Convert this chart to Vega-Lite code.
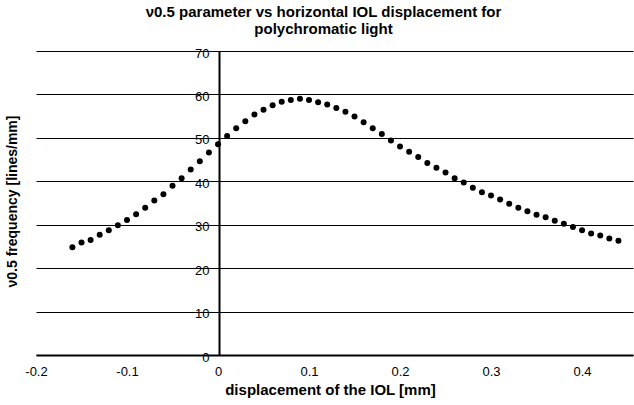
{
  "$schema": "https://vega.github.io/schema/vega-lite/v6.json",
  "width": 597,
  "height": 304,
  "autosize": "none",
  "padding": {"left": 36, "top": 51, "right": 1, "bottom": 50},
  "background": "white",
  "config": {
    "view": {"stroke": null},
    "font": "Liberation Sans"
  },
  "title": {
    "text": ["ν0.5 parameter vs horizontal IOL displacement for", "polychromatic light"],
    "font": "Liberation Sans",
    "fontSize": 15,
    "fontWeight": "bold",
    "color": "#000",
    "anchor": "middle",
    "dx": -11,
    "offset": 10,
    "lineHeight": 17
  },
  "data": {
    "values": [
      {"x": -0.16, "y": 24.8}, {"x": -0.15, "y": 25.9}, {"x": -0.14, "y": 26.5}, {"x": -0.13, "y": 27.7},
      {"x": -0.12, "y": 28.7}, {"x": -0.11, "y": 29.9}, {"x": -0.10, "y": 31.1}, {"x": -0.09, "y": 32.4},
      {"x": -0.08, "y": 33.9}, {"x": -0.07, "y": 35.6}, {"x": -0.06, "y": 37.0}, {"x": -0.05, "y": 39.0},
      {"x": -0.04, "y": 40.7}, {"x": -0.03, "y": 42.7}, {"x": -0.02, "y": 44.6}, {"x": -0.01, "y": 46.6},
      {"x": 0.00, "y": 48.5}, {"x": 0.01, "y": 50.4}, {"x": 0.02, "y": 52.2}, {"x": 0.03, "y": 53.8},
      {"x": 0.04, "y": 55.4}, {"x": 0.05, "y": 56.5}, {"x": 0.06, "y": 57.5}, {"x": 0.07, "y": 58.3},
      {"x": 0.08, "y": 58.7}, {"x": 0.09, "y": 59.0}, {"x": 0.10, "y": 58.7}, {"x": 0.11, "y": 58.2},
      {"x": 0.12, "y": 57.7}, {"x": 0.13, "y": 56.9}, {"x": 0.14, "y": 56.0}, {"x": 0.15, "y": 54.9},
      {"x": 0.16, "y": 53.6}, {"x": 0.17, "y": 52.2}, {"x": 0.18, "y": 50.9}, {"x": 0.19, "y": 49.4},
      {"x": 0.20, "y": 48.0}, {"x": 0.21, "y": 46.8}, {"x": 0.22, "y": 45.6}, {"x": 0.23, "y": 44.2},
      {"x": 0.24, "y": 43.1}, {"x": 0.25, "y": 42.0}, {"x": 0.26, "y": 40.7}, {"x": 0.27, "y": 39.7},
      {"x": 0.28, "y": 38.5}, {"x": 0.29, "y": 37.5}, {"x": 0.30, "y": 36.7}, {"x": 0.31, "y": 35.8},
      {"x": 0.32, "y": 34.8}, {"x": 0.33, "y": 33.9}, {"x": 0.34, "y": 33.1}, {"x": 0.35, "y": 32.3},
      {"x": 0.36, "y": 31.7}, {"x": 0.37, "y": 30.9}, {"x": 0.38, "y": 30.2}, {"x": 0.39, "y": 29.5},
      {"x": 0.40, "y": 28.7}, {"x": 0.41, "y": 28.0}, {"x": 0.42, "y": 27.5}, {"x": 0.43, "y": 26.8},
      {"x": 0.44, "y": 26.3}
    ]
  },
  "mark": {"type": "point", "filled": true, "color": "#000", "opacity": 1, "size": 36},
  "encoding": {
    "x": {
      "field": "x",
      "type": "quantitative",
      "scale": {"domain": [-0.2, 0.456], "nice": false, "zero": false},
      "axis": {
        "values": [-0.2, -0.1, 0, 0.1, 0.2, 0.3, 0.4],
        "labelExpr": "'' + datum.value",
        "title": "displacement of the IOL [mm]",
        "titleFont": "Liberation Sans",
        "titleFontSize": 15,
        "titleFontWeight": "bold",
        "titleColor": "#000",
        "titlePadding": 4,
        "titleAnchor": "middle",
        "titleX": 294,
        "labelFont": "Liberation Sans",
        "labelFontSize": 13,
        "labelColor": "#000",
        "labelPadding": 10,
        "labelFlush": false,
        "ticks": false,
        "grid": false,
        "domainColor": "#000",
        "domainWidth": 2
      }
    },
    "y": {
      "field": "y",
      "type": "quantitative",
      "scale": {"domain": [0, 70], "nice": false},
      "axis": {
        "values": [0, 10, 20, 30, 40, 50, 60, 70],
        "offset": -183,
        "title": "ν0.5 frequency [lines/mm]",
        "titleFont": "Liberation Sans",
        "titleFontSize": 14,
        "titleFontWeight": "bold",
        "titleColor": "#000",
        "titleX": -200,
        "titleY": 150,
        "labelFont": "Liberation Sans",
        "labelFontSize": 13,
        "labelColor": "#000",
        "labelPadding": 10,
        "labelOffset": 2,
        "ticks": false,
        "grid": true,
        "gridColor": "#000",
        "gridWidth": 1,
        "gridOpacity": 1,
        "domainColor": "#000",
        "domainWidth": 2
      }
    }
  }
}
